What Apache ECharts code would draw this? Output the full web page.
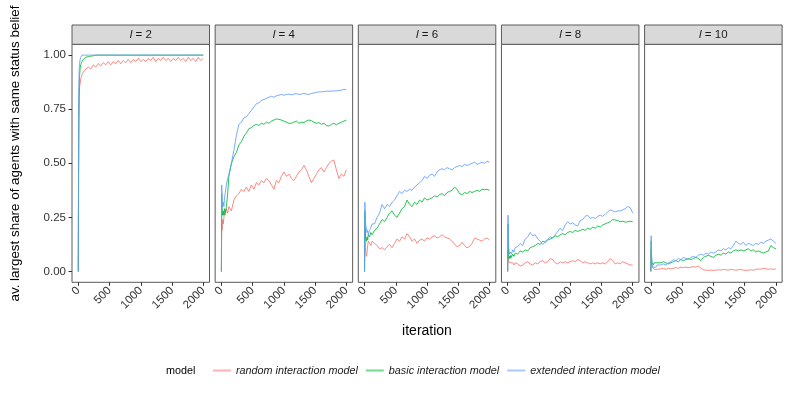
<!DOCTYPE html>
<html>
<head>
<meta charset="utf-8">
<script src="https://cdn.jsdelivr.net/npm/echarts@6/dist/echarts.min.js"></script>
<style>html,body{margin:0;padding:0;background:#fff}#c{width:800px;height:400px}</style>
</head>
<body>
<div id="c"></div>
<script>
// ---------- data ----------
const panels = ["2", "4", "6", "8", "10"];
const models = ["random interaction model", "basic interaction model", "extended interaction model"];
const xTicks = [0, 500, 1000, 1500, 2000];
const yTicks = [0, 0.25, 0.5, 0.75, 1];
const yTickLabels = ["0.00", "0.25", "0.50", "0.75", "1.00"];

const iterations = [0,5,10,15,20,30,40,50,60,80,100,120,
 160,200,240,280,320,360,400,440,480,520,
 560,600,640,680,720,760,800,840,880,920,
 960,1000,1040,1080,1120,1160,1200,1240,1280,1320,
 1360,1400,1440,1480,1520,1560,1600,1640,1680,1720,
 1760,1800,1840,1880,1920,1960,2000];

// l = 2
const random_l2 = [0,0.40,0.70,0.80,0.85,0.87,0.89,0.90,0.91,0.92,0.93,0.925,
 0.945,0.935,0.955,0.945,0.96,0.95,0.965,0.955,0.97,0.955,
 0.97,0.96,0.975,0.96,0.975,0.965,0.98,0.965,0.98,0.97,
 0.985,0.97,0.98,0.97,0.985,0.975,0.99,0.97,0.985,0.975,
 0.99,0.975,0.985,0.97,0.985,0.975,0.99,0.975,0.985,0.97,
 0.99,0.975,0.985,0.97,0.99,0.975,0.985];
const basic_l2 = [0,0.45,0.75,0.86,0.90,0.94,0.955,0.965,0.97,0.98,0.985,0.99,
 0.993,0.995,0.997,1,1,1,1,1,1,1,
 1,1,1,1,1,1,1,1,1,1,
 1,1,1,1,1,1,1,1,1,1,
 1,1,1,1,1,1,1,1,1,1,
 1,1,1,1,1,1,1];
const extended_l2 = [0,0.55,0.85,0.93,0.96,0.98,0.99,0.995,1,1,1,1,
 1,1,1,1,1,1,1,1,1,1,
 1,1,1,1,1,1,1,1,1,1,
 1,1,1,1,1,1,1,1,1,1,
 1,1,1,1,1,1,1,1,1,1,
 1,1,1,1,1,1,1];

// l = 4
const random_l4 = [0,0.22,0.19,0.21,0.24,0.22,0.25,0.27,0.26,0.29,0.27,0.30,
 0.28,0.33,0.35,0.36,0.38,0.37,0.39,0.37,0.40,0.38,
 0.41,0.40,0.42,0.41,0.43,0.42,0.40,0.38,0.42,0.41,
 0.44,0.46,0.44,0.45,0.43,0.42,0.44,0.46,0.47,0.49,
 0.47,0.44,0.41,0.43,0.45,0.47,0.48,0.46,0.48,0.50,
 0.51,0.515,0.47,0.43,0.45,0.44,0.47];
const basic_l4 = [0,0.36,0.30,0.27,0.26,0.28,0.26,0.29,0.27,0.30,0.36,0.44,
 0.50,0.53,0.55,0.585,0.60,0.625,0.64,0.66,0.665,0.675,
 0.68,0.675,0.685,0.68,0.69,0.685,0.695,0.70,0.705,0.703,
 0.70,0.695,0.69,0.685,0.685,0.69,0.695,0.685,0.69,0.688,
 0.695,0.70,0.697,0.69,0.685,0.688,0.68,0.685,0.675,0.672,
 0.68,0.685,0.678,0.685,0.69,0.695,0.70];
const extended_l4 = [0,0.40,0.34,0.31,0.30,0.32,0.30,0.34,0.36,0.40,0.43,0.45,
 0.50,0.56,0.63,0.68,0.69,0.71,0.715,0.73,0.745,0.76,
 0.775,0.78,0.79,0.795,0.80,0.805,0.81,0.805,0.812,0.815,
 0.818,0.815,0.818,0.82,0.816,0.82,0.822,0.818,0.82,0.823,
 0.82,0.818,0.823,0.825,0.828,0.83,0.83,0.832,0.833,0.833,
 0.834,0.834,0.835,0.836,0.838,0.842,0.84];

// l = 6
const random_l6 = [0,0.20,0.14,0.11,0.09,0.07,0.09,0.12,0.14,0.13,0.12,0.14,
 0.13,0.12,0.105,0.11,0.10,0.115,0.125,0.11,0.13,0.15,
 0.14,0.16,0.15,0.175,0.16,0.14,0.15,0.13,0.145,0.15,
 0.14,0.155,0.15,0.16,0.165,0.155,0.16,0.17,0.16,0.155,
 0.15,0.14,0.125,0.115,0.12,0.135,0.12,0.11,0.115,0.13,
 0.155,0.15,0.145,0.14,0.15,0.155,0.145];
const basic_l6 = [0,0.28,0.20,0.16,0.15,0.14,0.16,0.145,0.17,0.16,0.18,0.17,
 0.19,0.20,0.22,0.24,0.23,0.25,0.27,0.28,0.26,0.25,
 0.27,0.29,0.30,0.33,0.31,0.30,0.32,0.31,0.33,0.32,
 0.34,0.33,0.335,0.34,0.35,0.345,0.355,0.36,0.35,0.365,
 0.37,0.375,0.39,0.38,0.36,0.355,0.365,0.36,0.37,0.365,
 0.37,0.375,0.37,0.38,0.378,0.38,0.375];
const extended_l6 = [0,0.32,0.27,0.24,0.21,0.20,0.18,0.19,0.17,0.19,0.20,0.22,
 0.22,0.25,0.27,0.31,0.29,0.31,0.30,0.32,0.33,0.35,
 0.37,0.36,0.375,0.37,0.38,0.375,0.39,0.40,0.41,0.42,
 0.44,0.43,0.445,0.45,0.44,0.46,0.47,0.475,0.47,0.48,
 0.475,0.47,0.48,0.485,0.49,0.485,0.495,0.49,0.495,0.50,
 0.505,0.495,0.50,0.505,0.50,0.51,0.505];

// l = 8
const random_l8 = [0,0.10,0.06,0.05,0.045,0.04,0.045,0.04,0.035,0.04,0.03,0.04,
 0.035,0.025,0.03,0.04,0.045,0.035,0.03,0.04,0.035,0.045,
 0.05,0.04,0.045,0.06,0.055,0.04,0.035,0.045,0.04,0.045,
 0.04,0.045,0.05,0.045,0.055,0.05,0.04,0.045,0.04,0.035,
 0.04,0.035,0.04,0.035,0.04,0.035,0.045,0.06,0.05,0.035,
 0.04,0.035,0.045,0.04,0.035,0.03,0.03];
const basic_l8 = [0,0.22,0.12,0.08,0.06,0.07,0.06,0.075,0.065,0.08,0.07,0.085,
 0.08,0.095,0.09,0.10,0.095,0.11,0.115,0.12,0.13,0.125,
 0.14,0.135,0.145,0.15,0.155,0.165,0.16,0.17,0.175,0.17,
 0.18,0.185,0.18,0.19,0.185,0.19,0.195,0.19,0.20,0.195,
 0.205,0.20,0.21,0.205,0.215,0.22,0.225,0.23,0.24,0.238,
 0.235,0.23,0.232,0.228,0.23,0.232,0.23];
const extended_l8 = [0,0.26,0.18,0.12,0.10,0.08,0.075,0.09,0.08,0.10,0.09,0.11,
 0.115,0.13,0.12,0.15,0.16,0.18,0.165,0.17,0.15,0.14,
 0.125,0.135,0.15,0.16,0.155,0.17,0.185,0.20,0.19,0.215,
 0.23,0.22,0.225,0.215,0.21,0.235,0.24,0.255,0.26,0.245,
 0.25,0.245,0.255,0.26,0.255,0.265,0.275,0.285,0.28,0.275,
 0.28,0.28,0.285,0.29,0.30,0.295,0.27];

// l = 10
const random_l10 = [0,0.10,0.05,0.03,0.02,0.015,0.012,0.015,0.01,0.012,0.01,0.015,
 0.012,0.015,0.01,0.015,0.012,0.015,0.018,0.015,0.02,0.018,
 0.02,0.018,0.02,0.022,0.02,0.025,0.015,0.008,0.006,0.005,
 0.006,0.005,0.006,0.008,0.006,0.01,0.008,0.006,0.01,0.008,
 0.006,0.008,0.01,0.006,0.005,0.006,0.008,0.006,0.01,0.012,
 0.01,0.015,0.012,0.01,0.012,0.01,0.012];
const basic_l10 = [0,0.14,0.08,0.05,0.04,0.035,0.03,0.04,0.035,0.045,0.04,0.045,
 0.04,0.045,0.04,0.035,0.04,0.045,0.05,0.045,0.055,0.05,
 0.055,0.06,0.055,0.06,0.065,0.06,0.05,0.065,0.07,0.075,
 0.07,0.065,0.075,0.08,0.075,0.085,0.08,0.09,0.085,0.095,
 0.10,0.095,0.10,0.095,0.10,0.105,0.095,0.10,0.09,0.095,
 0.09,0.085,0.09,0.095,0.12,0.11,0.105];
const extended_l10 = [0,0.165,0.09,0.05,0.03,0.02,0.015,0.02,0.025,0.02,0.03,0.025,
 0.03,0.035,0.03,0.04,0.045,0.055,0.05,0.06,0.055,0.065,
 0.06,0.055,0.065,0.07,0.065,0.075,0.08,0.075,0.085,0.08,
 0.09,0.085,0.09,0.10,0.095,0.105,0.10,0.11,0.105,0.12,
 0.14,0.13,0.125,0.135,0.12,0.13,0.125,0.12,0.13,0.125,
 0.135,0.13,0.14,0.145,0.15,0.14,0.13];

const seriesByPanel = [
  [random_l2, basic_l2, extended_l2],
  [random_l4, basic_l4, extended_l4],
  [random_l6, basic_l6, extended_l6],
  [random_l8, basic_l8, extended_l8],
  [random_l10, basic_l10, extended_l10]
];

// ---------- layout / style ----------
const colors = ["#F8766D", "#00BA38", "#619CFF"];
const FONT = "Liberation Sans, Arial, sans-serif";
const panelLeft = 72, panelW = 137.5, panelStep = 143.15, panelTop = 44.3, panelH = 238;
const stripTop = 25, stripH = 19.3;
const borderCol = "#5a5a5a";
const textCol = "#333333";

const grids = [], xAxes = [], yAxes = [], series = [], graphics = [];

panels.forEach((p, i) => {
  const left = panelLeft + i * panelStep;
  grids.push({
    left: left, top: panelTop, width: panelW, height: panelH,
    show: true, borderColor: borderCol, borderWidth: 1, backgroundColor: "#fff",
    containLabel: false
  });
  xAxes.push({
    gridIndex: i, type: "value", min: -100, max: 2100, position: "bottom",
    axisLine: { show: false, onZero: false }, splitLine: { show: false },
    axisTick: { show: true, customValues: xTicks, length: 3.5, lineStyle: { color: textCol, width: 1 } },
    axisLabel: { show: true, customValues: xTicks, rotate: 45, margin: 6.5, fontSize: 11.5,
      color: textCol, fontFamily: FONT, formatter: v => String(v) }
  });
  yAxes.push({
    gridIndex: i, type: "value", min: -0.05, max: 1.05, position: "left",
    axisLine: { show: false, onZero: false }, splitLine: { show: false },
    axisTick: { show: i === 0, customValues: yTicks, length: 3.5, lineStyle: { color: textCol, width: 1 } },
    axisLabel: { show: i === 0, customValues: yTicks, margin: 6, fontSize: 11.5, color: textCol, fontFamily: FONT,
      formatter: v => yTickLabels[yTicks.indexOf(Math.round(v * 100) / 100)] }
  });
  seriesByPanel[i].forEach((vals, m) => {
    series.push({
      type: "line", name: models[m], xAxisIndex: i, yAxisIndex: i,
      data: iterations.map((x, k) => [x, vals[k]]),
      showSymbol: false, symbol: "none",
      lineStyle: { color: colors[m], width: 1, opacity: 0.85 },
      itemStyle: { color: colors[m] },
      emphasis: { disabled: true }, silent: true, z: 2 + m
    });
  });
  graphics.push({
    type: "rect", shape: { x: left, y: stripTop, width: panelW, height: stripH },
    style: { fill: "#D9D9D9", stroke: borderCol, lineWidth: 1 }, silent: true
  });
  graphics.push({
    type: "text", x: left + panelW / 2, y: stripTop + stripH / 2 + 0.5, silent: true,
    style: {
      text: "{i|l} = " + p, align: "center", verticalAlign: "middle",
      fontSize: 11.5, fontFamily: FONT, fill: "#1a1a1a",
      rich: { i: { fontStyle: "italic", fontSize: 11.5, fontFamily: FONT, fill: "#1a1a1a" } }
    }
  });
});

graphics.push({
  type: "text", x: 15, y: 153.5, rotation: Math.PI / 2, silent: true,
  style: { text: "av. largest share of agents with same status belief", align: "center", verticalAlign: "middle",
    fontSize: 13.4, fontFamily: FONT, fill: "#000" }
});
graphics.push({
  type: "text", x: 427, y: 331, silent: true,
  style: { text: "iteration", align: "center", verticalAlign: "middle", fontSize: 14, fontFamily: FONT, fill: "#000" }
});
graphics.push({
  type: "text", x: 166, y: 371, silent: true,
  style: { text: "model", align: "left", verticalAlign: "middle", fontSize: 10.8, fontFamily: FONT, fill: "#000" }
});

const chart = echarts.init(document.getElementById("c"), null, { renderer: "canvas" });
chart.setOption({
  animation: false,
  backgroundColor: "#fff",
  grid: grids, xAxis: xAxes, yAxis: yAxes, series: series,
  legend: {
    data: models, left: 208, top: 360, itemWidth: 18, itemHeight: 2, itemGap: 8,
    icon: "rect", selectedMode: false,
    itemStyle: { opacity: 0.55 },
    textStyle: { fontStyle: "italic", fontSize: 10.8, fontFamily: FONT, color: "#1a1a1a", padding: [0, 0, 0, 0] }
  },
  graphic: graphics
});
</script>
</body>
</html>
